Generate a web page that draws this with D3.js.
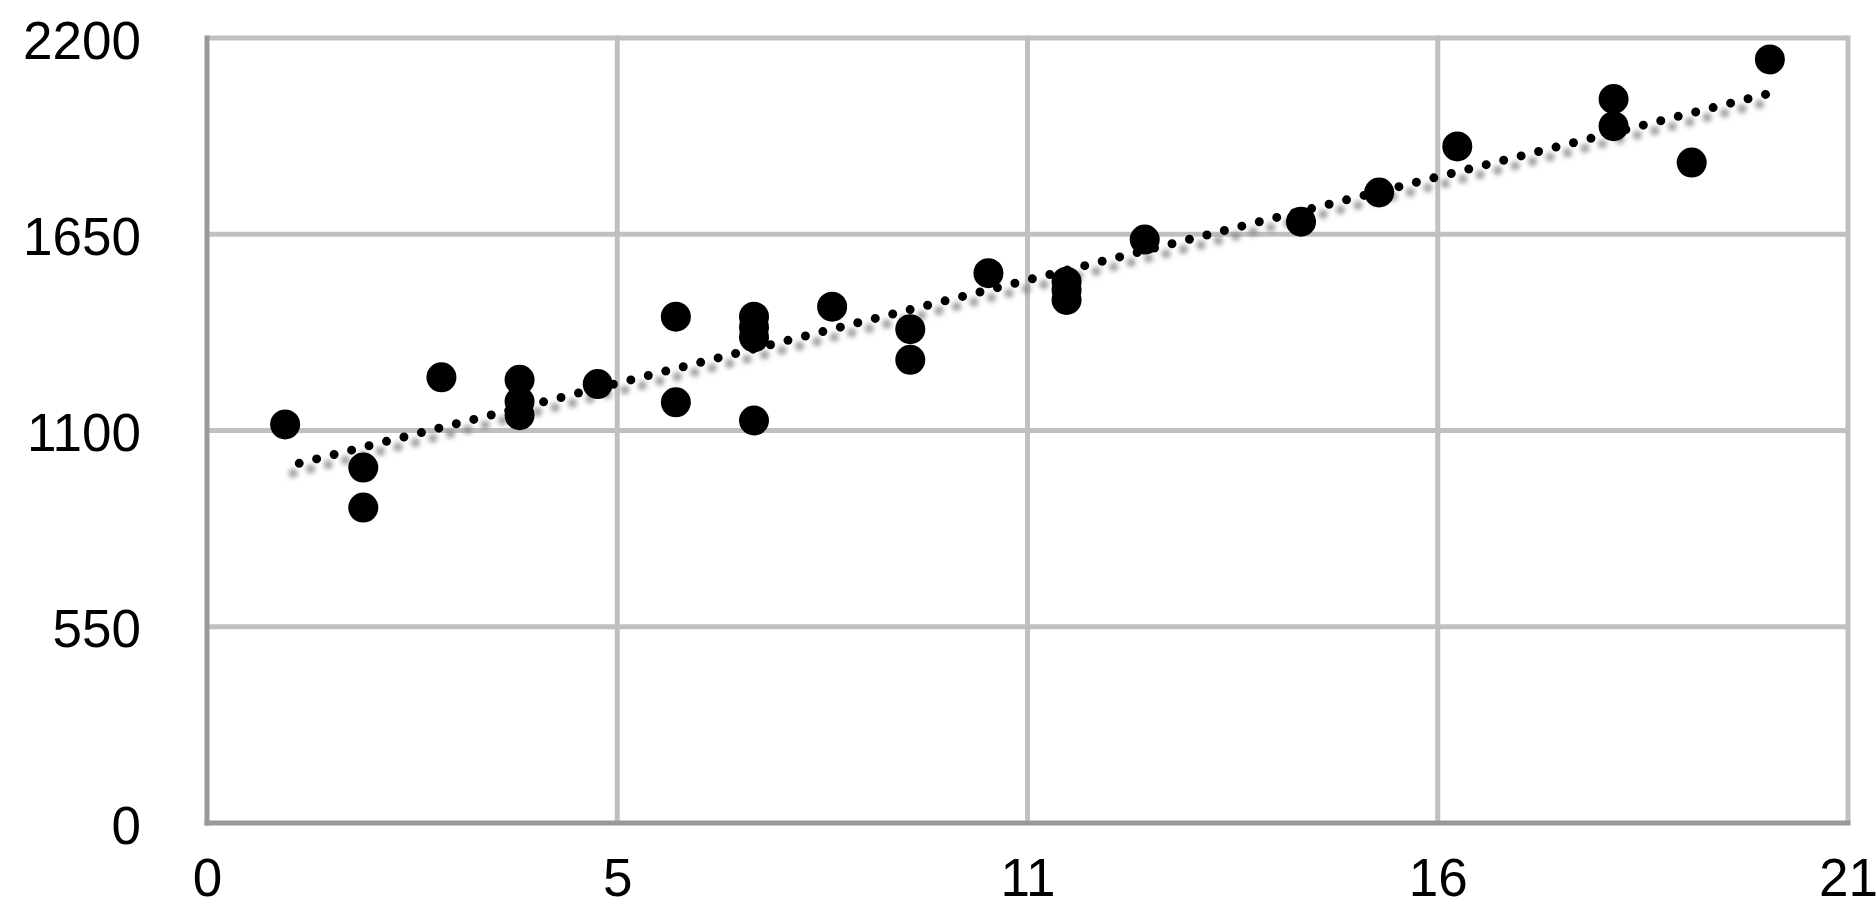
<!DOCTYPE html>
<html>
<head>
<meta charset="utf-8">
<script src="https://cdn.jsdelivr.net/npm/d3@7"></script>
<style>
  body { margin: 0; background: #fff; }
  text { font-family: "Liberation Sans", Arial, Helvetica, sans-serif; }
</style>
</head>
<body>
<div id="chart"></div>
<script>
// data
const xValues = [1, 2, 2, 3, 4, 4, 4, 5, 6, 6, 7, 7, 7, 7, 8, 9, 9, 10, 11, 11, 11, 12, 14, 15, 16, 18, 18, 19, 20];
const yValues = [1117, 996, 884, 1249, 1242, 1181, 1143, 1230, 1419, 1179, 1419, 1389, 1361, 1128, 1447, 1384, 1298, 1541, 1517, 1494, 1466, 1635, 1685, 1767, 1896, 2029, 1953, 1851, 2140];

// dotted trend line, ends as seen
const trendX = [1.18, 20];
const trendY = [1008, 2045];

const xTicks = [0, 5.25, 10.5, 15.75, 21];
const xTickLabels = ["0", "5", "11", "16", "21"];
const yTicks = [0, 550, 1100, 1650, 2200];
const yTickLabels = ["0", "550", "1100", "1650", "2200"];

const points = xValues.map((x, i) => ({ x: x, y: yValues[i] }));
const trend = trendX.map((x, i) => ({ x: x, y: trendY[i] }));

const margin = { top: 38, right: 28, bottom: 83, left: 207 },
    width = 1876 - margin.left - margin.right,
    height = 906 - margin.top - margin.bottom;

const root = d3.select("#chart")
    .append("svg")
    .attr("width", 1876)
    .attr("height", 906);

const defs = root.append("defs");
const shadow = defs.append("filter")
    .attr("id", "trendShadow")
    .attr("x", "-10%").attr("y", "-50%")
    .attr("width", "120%").attr("height", "200%");
shadow.append("feDropShadow")
    .attr("dx", -6)
    .attr("dy", 10)
    .attr("stdDeviation", 2.5)
    .attr("flood-color", "#888")
    .attr("flood-opacity", 0.85);

const svg = root.append("g")
    .attr("transform", `translate(${margin.left},${margin.top})`);

const xScale = d3.scaleLinear().domain([0, 21]).range([0, width]);
const yScale = d3.scaleLinear().domain([0, 2200]).range([height, 0]);

// grid
svg.append("g")
    .selectAll("line")
    .data(yTicks.slice(1))
    .join("line")
    .attr("x1", 0).attr("x2", width)
    .attr("y1", d => yScale(d)).attr("y2", d => yScale(d))
    .attr("stroke", "#c0c0c0")
    .attr("stroke-width", 5);

svg.append("g")
    .selectAll("line")
    .data(xTicks.slice(1))
    .join("line")
    .attr("x1", d => xScale(d)).attr("x2", d => xScale(d))
    .attr("y1", -2.5).attr("y2", height)
    .attr("stroke", "#c0c0c0")
    .attr("stroke-width", 5);

// axis lines (darker)
svg.append("line")
    .attr("x1", 0).attr("x2", 0)
    .attr("y1", -2.5).attr("y2", height + 2.5)
    .attr("stroke", "#999")
    .attr("stroke-width", 5);
svg.append("line")
    .attr("x1", -2.5).attr("x2", width + 2.5)
    .attr("y1", height).attr("y2", height)
    .attr("stroke", "#999")
    .attr("stroke-width", 5);

// tick labels through d3 axes
const xAxis = d3.axisBottom(xScale)
    .tickValues(xTicks)
    .tickFormat((d, i) => xTickLabels[i])
    .tickSize(0)
    .tickPadding(35);
const yAxis = d3.axisLeft(yScale)
    .tickValues(yTicks)
    .tickFormat((d, i) => yTickLabels[i])
    .tickSize(0)
    .tickPadding(66);

const gx = svg.append("g")
    .attr("transform", `translate(0,${height})`)
    .call(xAxis);
const gy = svg.append("g").call(yAxis);

[gx, gy].forEach(g => {
    g.select(".domain").remove();
    g.selectAll("text")
        .attr("font-family", "'Liberation Sans', Arial, Helvetica, sans-serif")
        .attr("font-size", 53)
        .attr("fill", "#000");
});
gy.selectAll("text").attr("dy", "0.38em");
gx.selectAll("text").attr("dy", "0.71em");

// trend line
const line = d3.line().x(d => xScale(d.x)).y(d => yScale(d.y));
svg.append("path")
    .datum(trend)
    .attr("d", line)
    .attr("fill", "none")
    .attr("stroke", "#000")
    .attr("stroke-width", 9)
    .attr("stroke-linecap", "round")
    .attr("stroke-dasharray", "0 18")
    .attr("filter", "url(#trendShadow)");

// points
svg.append("g")
    .selectAll("circle")
    .data(points)
    .join("circle")
    .attr("cx", d => xScale(d.x))
    .attr("cy", d => yScale(d.y))
    .attr("r", 15)
    .attr("fill", "#000");
</script>
</body>
</html>
